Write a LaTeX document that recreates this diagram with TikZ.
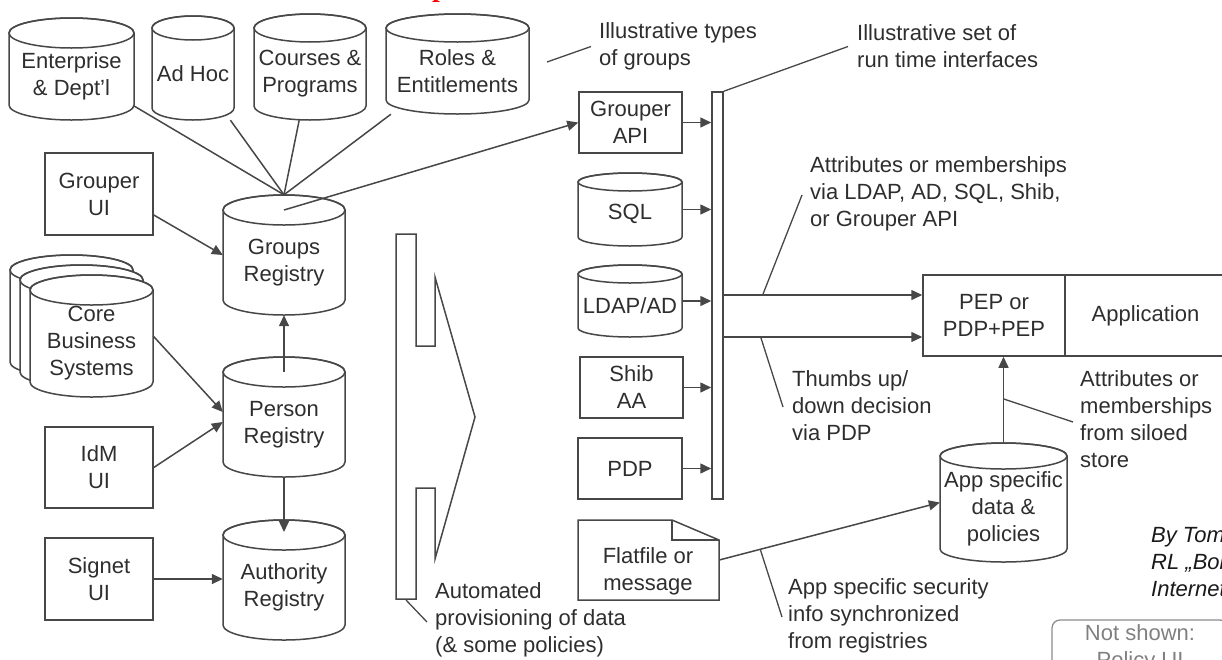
\documentclass[tikz,border=0pt]{standalone}
\usepackage{fontspec}
\setmainfont{Liberation Sans}
\newfontfamily\redserif{Liberation Serif}
\usetikzlibrary{arrows.meta,calc}
\colorlet{ln}{black!72}
\colorlet{tx}{black!82}
\tikzset{
 conn/.style={draw=ln,line width=1.5pt},
 cylline/.style={draw=ln,line width=1.5pt},
 cylbox/.style={draw=none,inner sep=0pt,rectangle},
 txt/.style={align=center,font=\fontsize{22}{27}\selectfont,text=tx,inner sep=0pt},
 note/.style={align=left,anchor=west,font=\fontsize{22}{27}\selectfont,text=tx,inner sep=0pt},
 box/.style={draw=ln,line width=1.5pt,rectangle,inner sep=0pt,align=center,font=\fontsize{22}{27}\selectfont,text=tx},
 arr/.style={draw=ln,line width=1.5pt,-{Triangle[length=11pt,width=10pt]}},
 lead/.style={draw=ln,line width=1.3pt},
 nsbox/.style={draw=black!45,line width=1.3pt,rounded corners=8pt,inner sep=0pt,align=center,font=\fontsize{22}{27}\selectfont,text=black!50},
}
% name, x1, y1, x2, y2, ry, text
\newcommand{\dbcyl}[7]{%
 \filldraw[cylline,fill=white] (#2,{#3+#6}) -- (#2,{#5-#6})
   arc[start angle=180,end angle=0,x radius={(#4-#2)/2},y radius=#6]
   -- (#4,{#3+#6})
   arc[start angle=0,end angle=-180,x radius={(#4-#2)/2},y radius=#6] -- cycle;
 \draw[cylline] ({(#2+#4)/2},{#3+#6}) ellipse[x radius={(#4-#2)/2},y radius=#6];
 \node[cylbox,minimum width={(#4-#2)*1pt},minimum height={(#5-#3)*1pt}] (#1) at ({(#2+#4)/2},{(#3+#5)/2}) {};
 \coordinate (#1-top) at ({(#2+#4)/2},{#3+#6});
 \node[txt] (#1-t) at ({(#2+#4)/2},{(#3+#6+#5)/2}) {#7};
}
\begin{document}
\begin{tikzpicture}[x=1pt,y=-1pt]
\useasboundingbox (0,0) rectangle (1222,659);
\clip (0,0) rectangle (1222,659);

% red fragment of cut-off title
\node[anchor=base west,inner sep=0pt,text=red,font=\fontsize{28}{30}\redserif\bfseries] (redp) at (432,-4) {p};

% group type cylinders
\dbcyl{ent}{9}{18}{134}{120}{15}{Enterprise\\\& Dept’l}
\dbcyl{adhoc}{152}{16}{234}{120}{12}{Ad Hoc}
\dbcyl{courses}{254}{14}{366}{120}{14}{Courses \&\\Programs}
\dbcyl{roles}{386}{14}{529}{114}{14}{Roles \&\\Entitlements}

% registries
\dbcyl{greg}{223}{195}{345}{315}{15}{Groups\\Registry}
\dbcyl{preg}{223}{357}{345}{477}{15}{Person\\Registry}
\dbcyl{areg}{223}{520}{345}{640}{15}{Authority\\Registry}

% core business systems (stacked)
\dbcyl{coreb2}{10}{255}{133}{377}{15}{}
\dbcyl{coreb1}{20}{265}{143}{387}{15}{}
\dbcyl{core}{30}{275}{153}{397}{15}{Core\\Business\\Systems}

% UIs
\node[box,minimum width=108pt,minimum height=82pt] (gui) at (99,194) {Grouper\\UI};
\node[box,minimum width=108pt,minimum height=81pt] (idm) at (99,467.5) {IdM\\UI};
\node[box,minimum width=108pt,minimum height=82pt] (signet) at (99,579) {Signet\\UI};

% run time interfaces
\node[box,minimum width=103pt,minimum height=61pt] (gapi) at (630.5,122.5) {Grouper\\API};
\dbcyl{sql}{578}{173}{682}{246}{9}{SQL}
\dbcyl{ldap}{578}{265}{682}{337}{9}{LDAP/AD}
\node[box,minimum width=103pt,minimum height=61pt] (shib) at (631.5,387.5) {Shib\\AA};
\node[box,minimum width=104pt,minimum height=61pt] (pdp) at (630,468.5) {PDP};
\node[box,minimum width=11pt,minimum height=407pt] (bar) at (717.5,295.5) {};

% flat file document
\draw[conn] (578,520) -- (672,520) -- (719,540) -- (719,600) -- (578,600) -- cycle;
\draw[conn] (672,520) -- (672,540) -- (719,540);
\node[cylbox,minimum width=141pt,minimum height=80pt] (flat) at (648.5,560) {};
\node[txt] (flat-t) at (648,571) {Flatfile or\\message};

% application side
\node[box,minimum width=142pt,minimum height=81pt] (pep) at (994,315.5) {PEP or\\PDP+PEP};
\node[box,minimum width=161pt,minimum height=81pt] (app) at (1145.5,315.5) {Application};
\dbcyl{appdb}{940}{443}{1067}{562}{13}{App specific\\data \&\\policies}

% provisioning shape
\draw[conn] (396,234) -- (416,234) -- (416,346) -- (435,346) -- (435,277) -- (475,417)
  -- (435,559) -- (435,488) -- (416,488) -- (416,599) -- (396,599) -- cycle;
\coordinate (provbot) at (406,600);

% connectors: groups
\foreach \n in {ent,adhoc,courses,roles} \draw[conn] (\n) -- (greg.north);
\draw[arr] (greg-top) -- (gapi.west);
\draw[arr] ($(gui.east)+(0,21)$) -- (greg.west);
\draw[arr] (core.east) -- ($(preg.west)+(0,-5)$);
\draw[arr] (idm.east) -- ($(preg.west)+(0,5)$);
\draw[arr] (preg-top) -- (greg.south);
\draw[arr] (preg.south) -- ($(areg-top)+(0,-3)$);
\draw[arr] (signet.east) -- (signet.east -| areg.west);

% interfaces to bar
\foreach \n in {gapi,sql,ldap,shib,pdp} \draw[arr] (\n.east) -- (\n.east -| bar.west);

% bar to PEP
\coordinate (pin1) at ($(pep.west)+(0,-20.5)$);
\coordinate (pin2) at ($(pep.west)+(0,21.5)$);
\draw[arr] (pin1 -| bar.east) -- coordinate[pos=0.196] (l1) (pin1);
\draw[arr] (pin2 -| bar.east) -- coordinate[pos=0.186] (l2) (pin2);

% flat file to app db, app db to pep
\draw[arr] (flat.east) -- coordinate[pos=0.186] (l3) (appdb.west);
\draw[arr] (appdb.north) -- coordinate[pos=0.51] (l4) (appdb.north |- pep.south);

% notes
\node[note] (t-types) at (599,46.5) {Illustrative types\\of groups};
\node[note] (t-run) at (857,46.5) {Illustrative set of\\run time interfaces};
\node[note] (t-attr) at (810,194) {Attributes or memberships\\via LDAP, AD, SQL, Shib,\\or Grouper API};
\node[note] (t-thumbs) at (792,406) {Thumbs up/\\down decision\\via PDP};
\node[note] (t-auto) at (435,620) {Automated\\provisioning of data\\(\& some policies)};
\node[note] (t-sec) at (788,616) {App specific security\\info synchronized\\from registries};
\node[note] (t-silo) at (1080,419) {Attributes or\\memberships\\from siloed\\store};
\node[note,font=\fontsize{22}{27}\selectfont\itshape,text=black!90] (t-by) at (1151,562) {By Tom Barton,\\RL „Bob“ Morgan,\\Internet2};
\node[nsbox,minimum width=176pt,minimum height=56pt] (ns) at (1140,648) {Not shown:\\Policy UI};

% leader lines
\coordinate (lt0) at (547,62);
\draw[lead] (lt0) -- ($(t-types.west)+(-8,0)$);
\draw[lead] (bar.north east) -- ($(t-run.west)+(-9,0)$);
\draw[lead] (l1) -- ($(t-attr.west)+(-8,1)$);
\draw[lead] (l2) -- ($(t-thumbs.west)+(-9,1)$);
\draw[lead] (l3) -- ($(t-sec.west)+(-6,1)$);
\draw[lead] (l4) -- ($(t-silo.west)+(-7,3)$);
\draw[lead] (provbot) -- ($(t-auto.west)+(-8,2)$);
\end{tikzpicture}
\end{document}
